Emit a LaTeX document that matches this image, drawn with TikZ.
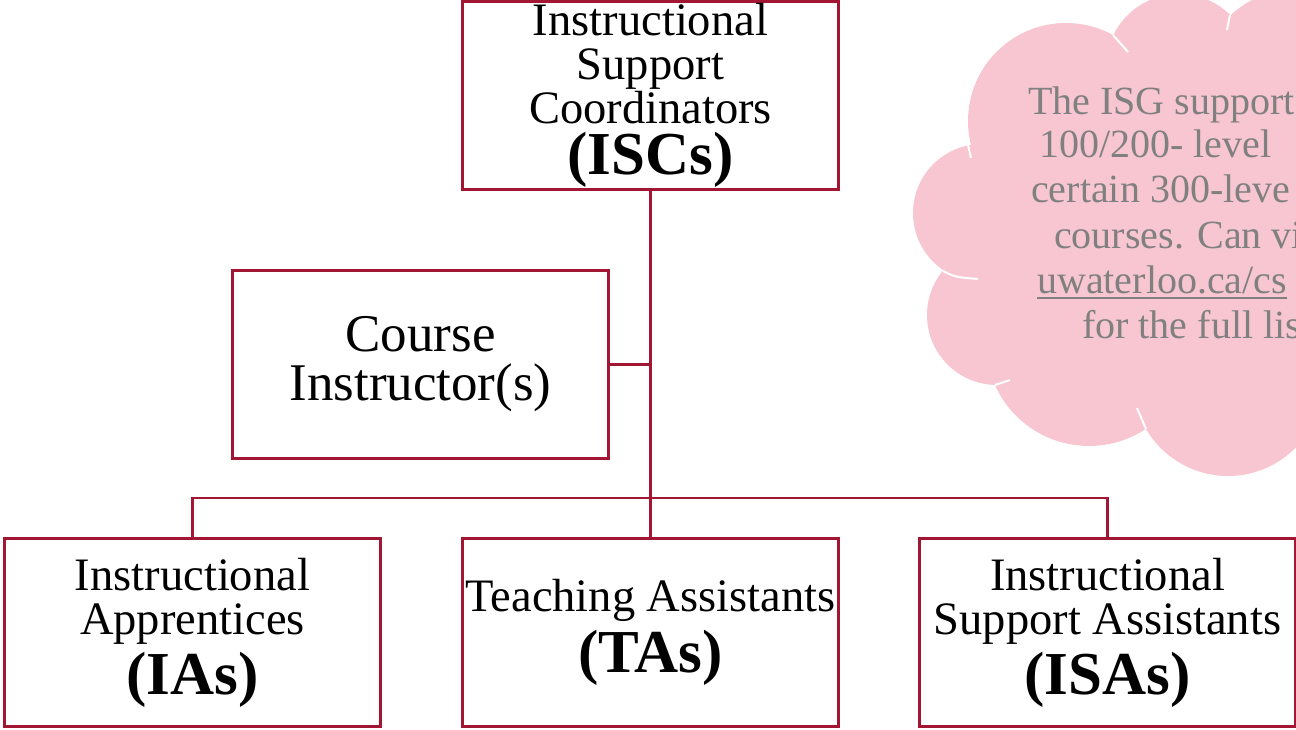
\documentclass[tikz,border=0pt]{standalone}
\usepackage{fontspec}
\setmainfont{Liberation Serif}
\definecolor{isgred}{RGB}{163,22,51}
\definecolor{isgpink}{RGB}{247,198,209}
\definecolor{isggrey}{RGB}{128,128,128}
\tikzset{
  rolebox/.style={draw=isgred, line width=2.4pt, minimum width=376pt, minimum height=188pt, inner sep=0pt, align=center, font=\fontsize{46.5}{44}\selectfont},
  orgline/.style={draw=isgred, line width=2.4pt},
  puffline/.style={draw=white, line width=2pt},
  cloudtext/.style={anchor=base west, inner sep=0pt, text=isggrey, font=\fontsize{40}{45}\selectfont},
}
\newcommand\roleabbr[1]{{\fontsize{61}{61}\selectfont\bfseries #1}}

\begin{document}
\begin{tikzpicture}[x=1pt,y=-1pt]
\useasboundingbox (0,0) rectangle (1296,730);
\clip (0,0) rectangle (1296,730);
\foreach \cx/\cy/\r in {1066/121/98, 982/213/69, 997/315/70, 1089/343/103, 1228/381/95, 1179/67/73, 1310/105/120, 1340/270/100}
  \fill[isgpink] (\cx,\cy) circle[radius=\r pt];
\fill[isgpink] (1150,240) ellipse[x radius=180pt, y radius=165pt];
\foreach \xa/\ya/\xb/\yb in {1113/35/1128/52, 1230/15/1227/30, 968/145/971/158, 995/385/1010/380, 1146/429/1137/408}
  \draw[puffline] (\xa,\ya) -- (\xb,\yb);
\draw[puffline] (943,271) .. controls (955,277) .. (978,279);

\node[cloudtext] (isg1) at (1028,115) {The ISG support};
\node[cloudtext] (isg2) at (1039,158) {100/200- level};
\node[cloudtext] (isg3) at (1031,203) {certain 300-leve};
\node[cloudtext] (isg4) at (1054,248) {courses. Can vi};
\node[cloudtext] (isg5) at (1037,293) {uwaterloo.ca/cs};
\node[cloudtext] (isg6) at (1082,338) {for the full lis};
\draw[isggrey, line width=1.5pt] ([yshift=-5pt]isg5.base west) -- ([yshift=-5pt]isg5.base east);

\node[rolebox] (isc) at (650.5,95.5) {Instructional\\Support\\Coordinators\\[7pt]\roleabbr{(ISCs)}};
\node[rolebox, font=\fontsize{53}{49}\selectfont] (ci) at (420.5,364.5) {Course\\Instructor(s)};
\node[rolebox] (ia) at (192.5,632.5) {Instructional\\Apprentices\\[7pt]\roleabbr{(IAs)}};
\node[rolebox] (ta) at (650.5,632.5) {Teaching Assistants\\[7pt]\roleabbr{(TAs)}};
\node[rolebox] (isa) at (1107.5,632.5) {Instructional\\Support Assistants\\[7pt]\roleabbr{(ISAs)}};

\coordinate (bus) at (650.5,498);
\draw[orgline] (isc.south) -- (ta.north);
\draw[orgline] (ci.east) -- (ci.east -| isc.south);
\draw[orgline] (ia.north) |- (bus) -| (isa.north);
\end{tikzpicture}
\end{document}
